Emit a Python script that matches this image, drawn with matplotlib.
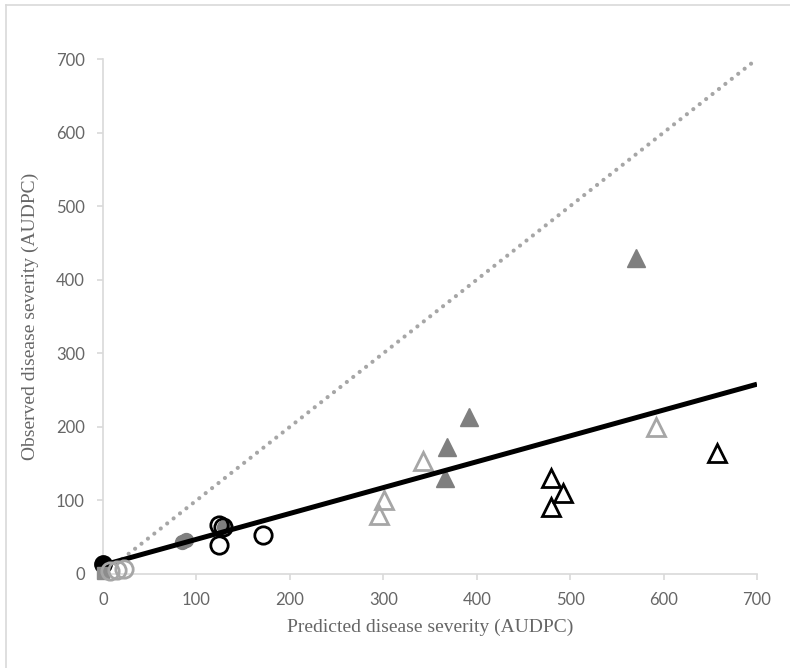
import matplotlib.pyplot as plt
from matplotlib.lines import Line2D

# Observed vs predicted AUDPC
blk_dot_x = [0]
blk_dot_y = [14]
gry_sq_x = [0]
gry_sq_y = [1]
lt_circ_x = [8, 15, 22]
lt_circ_y = [4, 5, 7]
gry_dot_x = [85, 89, 130]
gry_dot_y = [44, 46, 64]
blk_circ_x = [124, 128, 124, 171]
blk_circ_y = [66, 64, 39, 53]
lt_tri_x = [295, 301, 343, 592]
lt_tri_y = [80, 100, 153, 200]
gry_tri_x = [366, 368, 392, 571]
gry_tri_y = [131, 173, 213, 429]
blk_tri_x = [480, 480, 492, 657]
blk_tri_y = [130, 91, 110, 165]

fit_x = [0, 700]
fit_y = [12, 258]
one_x = [0, 700]
one_y = [0, 700]

ticks = [0, 100, 200, 300, 400, 500, 600, 700]

BLACK = '#000000'
DARK = '#7f7f7f'
LIGHT = '#a6a6a6'
AXIS = '#d9d9d9'
TEXT = '#666666'

fig = plt.figure(figsize=(7.9, 6.68), dpi=100)
ax = fig.add_axes([103 / 790, 1 - 574 / 668, 654 / 790, 515 / 668])

# outer chart border (only left/top visible in the reference)
fig.add_artist(Line2D([6 / 790, 6 / 790], [0, 1 - 5 / 668], color=AXIS, lw=1.2))
fig.add_artist(Line2D([6 / 790, 1], [1 - 5 / 668, 1 - 5 / 668], color=AXIS, lw=1.2))

ax.plot(one_x, one_y, color=LIGHT, lw=3, linestyle=(0, (0.01, 1.95)),
        dash_capstyle='round', zorder=2)

ms_c = 12.5
ms_t = 12.5
ax.plot(blk_dot_x, blk_dot_y, 'o', ms=ms_c, color=BLACK, clip_on=False, zorder=3)
ax.plot(gry_dot_x, gry_dot_y, 'o', ms=10, color=DARK, clip_on=False, zorder=3)
ax.plot(blk_circ_x, blk_circ_y, 'o', ms=ms_c, mfc='none', mec=BLACK, mew=2,
        clip_on=False, zorder=3)
ax.plot(lt_tri_x, lt_tri_y, '^', ms=ms_t, mfc='none', mec=LIGHT, mew=2,
        clip_on=False, zorder=3)
ax.plot(gry_tri_x, gry_tri_y, '^', ms=ms_t, color=DARK, clip_on=False, zorder=3)
ax.plot(blk_tri_x, blk_tri_y, '^', ms=ms_t, mfc='none', mec=BLACK, mew=2,
        clip_on=False, zorder=3)
ax.plot(fit_x, fit_y, color=BLACK, lw=3.6, solid_capstyle='butt', zorder=4)
ax.plot(gry_sq_x, gry_sq_y, 's', ms=9, color='#8c8c8c', clip_on=False, zorder=5)
ax.plot(lt_circ_x, lt_circ_y, 'o', ms=ms_c, mfc='none', mec=LIGHT, mew=2,
        clip_on=False, zorder=5)

ax.set_xlim(0, 700)
ax.set_ylim(0, 700)
ax.set_xticks(ticks)
ax.set_yticks(ticks)

for s in ['top', 'right']:
    ax.spines[s].set_visible(False)
for s in ['left', 'bottom']:
    ax.spines[s].set_color(AXIS)
    ax.spines[s].set_linewidth(1.2)

ax.tick_params(direction='out', length=4, width=1.2, color=AXIS,
               labelcolor=TEXT, labelsize=12, pad=9)
for lab in ax.get_xticklabels() + ax.get_yticklabels():
    lab.set_family(['Lato', 'DejaVu Sans'])

ax.set_xlabel('Predicted disease severity (AUDPC)', family='Liberation Serif',
              fontsize=14, color=TEXT, labelpad=8)
ax.set_ylabel('Observed disease severity (AUDPC)', family='Liberation Serif',
              fontsize=14, color=TEXT, labelpad=12)

fig.savefig('out.png', dpi=100)
